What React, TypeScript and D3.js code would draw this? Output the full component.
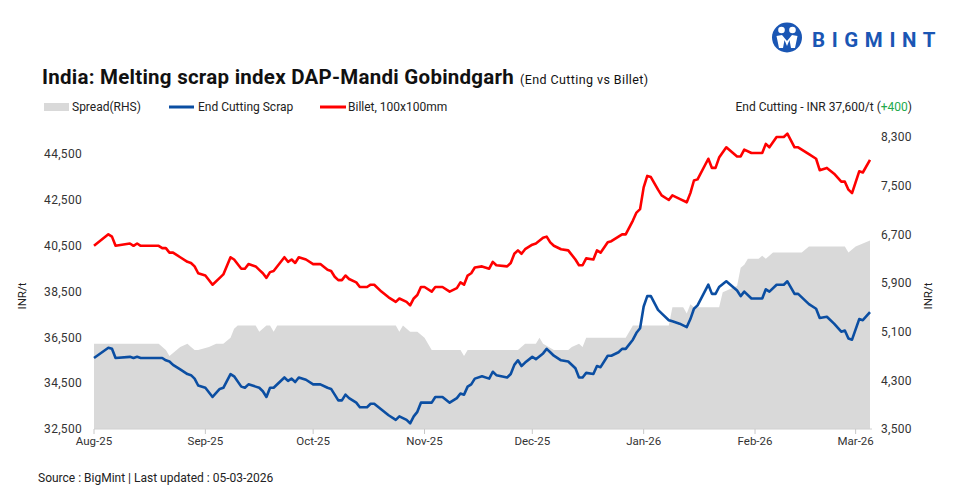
import React from 'react';
import * as d3 from 'd3';

// billet + end cutting share the same reading dates
const lineDates = [
  '2025-08-01', '2025-08-05', '2025-08-06', '2025-08-07', '2025-08-11', '2025-08-12', '2025-08-13', '2025-08-14',
  '2025-08-19', '2025-08-20', '2025-08-21', '2025-08-22', '2025-08-23', '2025-08-25', '2025-08-27', '2025-08-28',
  '2025-08-29', '2025-08-30', '2025-09-01', '2025-09-03', '2025-09-05', '2025-09-06', '2025-09-08', '2025-09-09',
  '2025-09-11', '2025-09-12', '2025-09-13', '2025-09-15', '2025-09-16', '2025-09-17', '2025-09-18', '2025-09-19',
  '2025-09-20', '2025-09-23', '2025-09-24', '2025-09-25', '2025-09-26', '2025-09-27', '2025-09-29', '2025-10-01',
  '2025-10-03', '2025-10-05', '2025-10-06', '2025-10-07', '2025-10-08', '2025-10-09', '2025-10-10', '2025-10-11',
  '2025-10-13', '2025-10-14', '2025-10-16', '2025-10-17', '2025-10-18', '2025-10-20', '2025-10-22', '2025-10-24',
  '2025-10-25', '2025-10-27', '2025-10-28', '2025-10-29', '2025-10-30', '2025-10-31', '2025-11-01', '2025-11-03',
  '2025-11-04', '2025-11-06', '2025-11-08', '2025-11-10', '2025-11-11', '2025-11-12', '2025-11-13', '2025-11-14',
  '2025-11-15', '2025-11-17', '2025-11-19', '2025-11-20', '2025-11-21', '2025-11-24', '2025-11-25', '2025-11-26',
  '2025-11-27', '2025-11-28', '2025-11-29', '2025-12-01', '2025-12-02', '2025-12-04', '2025-12-05', '2025-12-06',
  '2025-12-07', '2025-12-09', '2025-12-11', '2025-12-13', '2025-12-14', '2025-12-15', '2025-12-16', '2025-12-18',
  '2025-12-19', '2025-12-20', '2025-12-22', '2025-12-23', '2025-12-25', '2025-12-26', '2025-12-27', '2025-12-29',
  '2025-12-30', '2025-12-31', '2026-01-01', '2026-01-02', '2026-01-03', '2026-01-05', '2026-01-06', '2026-01-08',
  '2026-01-09', '2026-01-11', '2026-01-13', '2026-01-14', '2026-01-15', '2026-01-16', '2026-01-19', '2026-01-20',
  '2026-01-21', '2026-01-22', '2026-01-24', '2026-01-27', '2026-01-28', '2026-01-29', '2026-01-31', '2026-02-03',
  '2026-02-04', '2026-02-05', '2026-02-07', '2026-02-09', '2026-02-10', '2026-02-12', '2026-02-13', '2026-02-16',
  '2026-02-18', '2026-02-19', '2026-02-21', '2026-02-23', '2026-02-25', '2026-02-26', '2026-02-27', '2026-02-28',
  '2026-03-02', '2026-03-03', '2026-03-05',
];

const billet = [
  40500, 41000, 40900, 40500, 40600, 40500, 40600, 40500,
  40500, 40400, 40400, 40200, 40200, 40000, 39800, 39750,
  39600, 39300, 39200, 38800, 39100, 39250, 40000, 39900,
  39500, 39500, 39700, 39600, 39450, 39300, 39100, 39350,
  39400, 40000, 39800, 39900, 39750, 40000, 39900, 39700,
  39700, 39450, 39400, 39150, 39000, 39000, 39200, 39050,
  38900, 38700, 38700, 38800, 38800, 38500, 38250, 38050,
  38200, 38050, 37900, 38200, 38350, 38700, 38700, 38500,
  38700, 38700, 38500, 38650, 38900, 38800, 39200, 39300,
  39550, 39600, 39500, 39800, 39650, 39600, 39750, 40150,
  40300, 40150, 40350, 40550, 40600, 40850, 40900, 40650,
  40500, 40350, 40300, 39900, 39650, 39650, 39950, 39900,
  40300, 40200, 40650, 40700, 40900, 41000, 41000, 41600,
  41950, 42100, 43050, 43550, 43500, 42950, 42700, 42500,
  42700, 42550, 42400, 42800, 43350, 43400, 44300, 43900,
  43900, 44350, 44800, 44400, 44400, 44700, 44550, 44550,
  44950, 44800, 45250, 45250, 45400, 44800, 44800, 44500,
  44300, 43800, 43900, 43650, 43300, 43300, 42950, 42800,
  43750, 43700, 44250,
];

const endCutting = [
  35600, 36050, 36000, 35600, 35650, 35600, 35650, 35600,
  35600, 35600, 35500, 35450, 35300, 35100, 34900, 34850,
  34700, 34400, 34300, 33900, 34250, 34300, 34900, 34800,
  34350, 34300, 34450, 34350, 34300, 34150, 33900, 34300,
  34300, 34750, 34600, 34700, 34550, 34750, 34650, 34450,
  34450, 34300, 34250, 34000, 33750, 33750, 34000, 33850,
  33650, 33450, 33450, 33600, 33600, 33350, 33100, 32900,
  33050, 32900, 32750, 33050, 33250, 33650, 33650, 33650,
  33900, 33900, 33650, 33850, 34050, 34000, 34350, 34450,
  34700, 34800, 34700, 35000, 34850, 34750, 34900, 35300,
  35500, 35250, 35400, 35650, 35550, 35800, 36000, 35850,
  35700, 35500, 35450, 35150, 34750, 34750, 34950, 34900,
  35250, 35200, 35700, 35700, 35850, 36000, 36000, 36400,
  36700, 36900, 37850, 38300, 38300, 37700, 37550, 37250,
  37200, 37100, 36950, 37300, 37750, 37900, 38800, 38400,
  38400, 38700, 38950, 38550, 38300, 38500, 38200, 38200,
  38600, 38500, 38800, 38800, 38950, 38400, 38400, 37950,
  37750, 37350, 37400, 37100, 36750, 36800, 36450, 36400,
  37300, 37250, 37600,
];

const spreadDates = [
  '2025-08-01', '2025-08-19', '2025-08-21', '2025-08-22', '2025-08-23', '2025-08-25', '2025-08-27', '2025-08-28',
  '2025-08-29', '2025-08-30', '2025-09-02', '2025-09-04', '2025-09-06', '2025-09-08', '2025-09-09', '2025-09-10',
  '2025-09-15', '2025-09-16', '2025-09-18', '2025-09-19', '2025-09-20', '2025-09-21', '2025-10-24', '2025-10-25',
  '2025-10-26', '2025-10-28', '2025-10-30', '2025-11-01', '2025-11-03', '2025-11-11', '2025-11-12', '2025-11-13',
  '2025-11-27', '2025-11-29', '2025-12-02', '2025-12-03', '2025-12-04', '2025-12-07', '2025-12-11', '2025-12-12',
  '2025-12-14', '2025-12-15', '2025-12-16', '2025-12-27', '2025-12-29', '2026-01-08', '2026-01-09', '2026-01-12',
  '2026-01-13', '2026-01-14', '2026-01-15', '2026-01-22', '2026-01-23', '2026-01-27', '2026-01-28', '2026-01-29',
  '2026-01-30', '2026-02-02', '2026-02-03', '2026-02-04', '2026-02-06', '2026-02-14', '2026-02-16', '2026-02-26',
  '2026-02-27', '2026-03-01', '2026-03-03', '2026-03-05',
];

const spread = [
  4900, 4900, 4800, 4700, 4750, 4850, 4900, 4850,
  4800, 4800, 4850, 4900, 4900, 5000, 5150, 5200,
  5200, 5100, 5200, 5200, 5100, 5200, 5200, 5100,
  5200, 5100, 5100, 5000, 4800, 4800, 4700, 4800,
  4800, 4900, 4900, 5000, 4900, 4800, 4800, 4850,
  4900, 4850, 5000, 5000, 5200, 5200, 5500, 5500,
  5400, 5550, 5500, 5500, 5750, 5850, 6150, 6200,
  6300, 6300, 6350, 6300, 6400, 6400, 6500, 6500,
  6400, 6500, 6550, 6600,
];

const leftTicks = [32500, 34500, 36500, 38500, 40500, 42500, 44500];
const rightTicks = [3500, 4300, 5100, 5900, 6700, 7500, 8300];
const monthTicks = ['2025-08-01', '2025-09-01', '2025-10-01', '2025-11-01', '2025-12-01', '2026-01-01', '2026-02-01', '2026-03-01'];
const monthLabels = ['Aug-25', 'Sep-25', 'Oct-25', 'Nov-25', 'Dec-25', 'Jan-26', 'Feb-26', 'Mar-26'];

const width = 954;
const height = 496;
const plot = { left: 94, right: 870, top: 137, bottom: 429 };
const font = 'Roboto, "Noto Sans", sans-serif';
const blue = '#0b4ea2';
const red = '#ff0000';
const grey = '#d9d9d9';

const parse = d3.utcParse('%Y-%m-%d');
const fmt = d3.format(',');

const App: React.FC = () => {
  const x = d3
    .scaleUtc()
    .domain([parse('2025-08-01')!, parse('2026-03-05')!])
    .range([plot.left, plot.right]);
  const yL = d3.scaleLinear().domain([32500, 45250]).range([plot.bottom, plot.top]);
  const yR = d3.scaleLinear().domain([3500, 8300]).range([plot.bottom, plot.top]);

  const spreadArea = d3
    .area<number>()
    .x((_, i) => x(parse(spreadDates[i])!))
    .y0(yR(3500))
    .y1((d) => yR(d));

  const line = d3
    .line<number>()
    .x((_, i) => x(parse(lineDates[i])!))
    .y((d) => yL(d));

  return (
    <svg
      width={width}
      height={height}
      style={{ position: 'absolute', left: 0, top: 0, background: '#fff' }}
      fontFamily={font}
    >
      {/* logo */}
      <g>
        <circle cx={787} cy={37.5} r={15} fill="#1a56b4" />
        <circle cx={781.5} cy={30} r={3.3} fill="#fff" />
        <circle cx={792.5} cy={30} r={3.3} fill="#fff" />
        <path d="M776.5 36 L779 48 L783 48 L784.5 40 L787 46 L789.5 40 L791 48 L795 48 L797.5 36 L792 35 L787 41 L782 35 Z" fill="#fff" />
        <text x={812} y={47} fontSize={20.5} fontWeight={700} fill="#1a56b4" letterSpacing={6.6}>
          BIGMINT
        </text>
      </g>

      {/* title */}
      <text x={42} y={84} fontSize={20.5} fontWeight={700} fill="#111" letterSpacing={0.25}>
        India: Melting scrap index DAP-Mandi Gobindgarh
        <tspan fontSize={12.5} fontWeight={400} dx={6} letterSpacing={0.4}>
          (End Cutting vs Billet)
        </tspan>
      </text>

      {/* legend */}
      <g fontSize={12} fill="#222">
        <rect x={44} y={103} width={25} height={8} fill={grey} />
        <text x={72} y={111}>Spread(RHS)</text>
        <line x1={169} x2={194} y1={107} y2={107} stroke={blue} strokeWidth={3} />
        <text x={198} y={111}>End Cutting Scrap</text>
        <line x1={320} x2={346} y1={107} y2={107} stroke={red} strokeWidth={3} />
        <text x={348} y={111}>Billet, 100x100mm</text>
        <text x={912} y={111} textAnchor="end">
          End Cutting - INR 37,600/t (<tspan fill="#22a94b">+400</tspan>)
        </text>
      </g>

      {/* spread area */}
      <path d={spreadArea(spread) || ''} fill={grey} />

      {/* baseline + month ticks */}
      <line x1={plot.left} x2={plot.right + 2} y1={plot.bottom} y2={plot.bottom} stroke="#d0d0d0" strokeWidth={1} />
      {monthTicks.map((m, i) => {
        const px = x(parse(m)!);
        return (
          <g key={m}>
            <line x1={px} x2={px} y1={plot.bottom} y2={plot.bottom + 5} stroke="#c8c8c8" strokeWidth={1} />
            <text x={px} y={445} fontSize={11.5} fill="#333" textAnchor="middle">
              {monthLabels[i]}
            </text>
          </g>
        );
      })}

      {/* lines */}
      <path d={line(billet) || ''} fill="none" stroke={red} strokeWidth={2.6} strokeLinejoin="round" />
      <path d={line(endCutting) || ''} fill="none" stroke={blue} strokeWidth={2.6} strokeLinejoin="round" />

      {/* left axis */}
      {leftTicks.map((t) => (
        <text key={t} x={82} y={yL(t)} dy="0.35em" fontSize={12} fill="#333" textAnchor="end" letterSpacing={0.3}>
          {fmt(t)}
        </text>
      ))}
      <text transform="translate(26,296) rotate(-90)" fontSize={11.5} fill="#222" textAnchor="middle">
        INR/t
      </text>

      {/* right axis */}
      {rightTicks.map((t) => (
        <text key={t} x={881} y={yR(t)} dy="0.35em" fontSize={12} fill="#333" letterSpacing={0.3}>
          {fmt(t)}
        </text>
      ))}
      <text transform="translate(932,296) rotate(-90)" fontSize={11.5} fill="#222" textAnchor="middle">
        INR/t
      </text>

      {/* source */}
      <text x={38} y={482} fontSize={12} fill="#222">
        Source : BigMint | Last updated : 05-03-2026
      </text>
    </svg>
  );
};

export default App;
